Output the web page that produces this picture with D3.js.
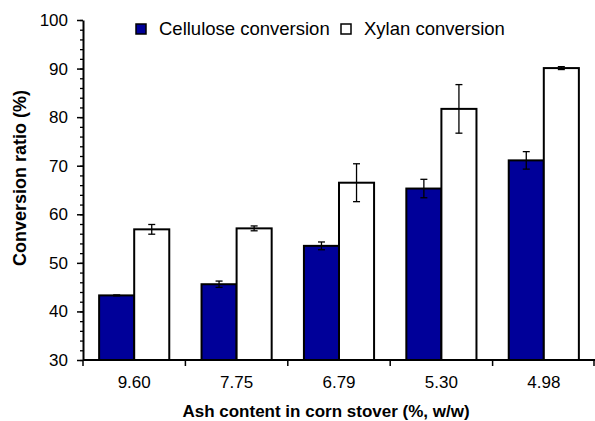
<!DOCTYPE html>
<html lang="en">
<head>
<meta charset="utf-8">
<title>Conversion ratio vs ash content</title>
<script src="https://cdn.jsdelivr.net/npm/d3@7"></script>
<style>
  body { margin: 0; background: #fff; }
  text { font-family: "Liberation Sans", Arial, sans-serif; fill: #000; }
</style>
</head>
<body>
<script>
// chart data
var ashContent = ["9.60", "7.75", "6.79", "5.30", "4.98"];
var cellulose = [43.3, 45.6, 53.5, 65.3, 71.1];
var celluloseErr = [0.1, 0.65, 0.8, 1.9, 1.8];
var xylan = [56.9, 57.1, 66.5, 81.7, 90.1];
var xylanErr = [1.0, 0.5, 3.9, 5.0, 0.3];
var yTicks = [30, 40, 50, 60, 70, 80, 90, 100];
var seriesNames = ["Cellulose conversion", "Xylan conversion"];

var width = 595, height = 421;
var margin = { top: 20, right: 0, bottom: 61, left: 83 };

var svg = d3.select("body").append("svg")
    .attr("width", width)
    .attr("height", height);

var xScale = d3.scaleBand()
    .domain(ashContent)
    .range([margin.left, width - margin.right])
    .paddingInner(0)
    .paddingOuter(0);

// two bars per category, centred in the band
var inner = d3.scaleBand()
    .domain([0, 1])
    .range([0, xScale.bandwidth()])
    .paddingOuter(0.46)
    .paddingInner(0);

var yScale = d3.scaleLinear()
    .domain([30, 100])
    .range([height - margin.bottom, margin.top]);

var blue = "#000099";

// bars
var groups = svg.selectAll("g.cat")
    .data(ashContent)
    .enter().append("g")
    .attr("class", "cat")
    .attr("transform", function(d) { return "translate(" + xScale(d) + ",0)"; });

function drawSeries(values, errs, idx, fill) {
    groups.append("rect")
        .attr("x", inner(idx))
        .attr("y", function(d, i) { return yScale(values[i]); })
        .attr("width", inner.bandwidth())
        .attr("height", function(d, i) { return yScale(30) - yScale(values[i]); })
        .attr("fill", fill)
        .attr("stroke", "#000")
        .attr("stroke-width", 2);

    // error bars
    var cx = inner(idx) + inner.bandwidth() / 2;
    var eb = groups.append("g");
    eb.append("line")
        .attr("x1", cx).attr("x2", cx)
        .attr("y1", function(d, i) { return yScale(values[i] + errs[i]); })
        .attr("y2", function(d, i) { return yScale(values[i] - errs[i]); });
    eb.append("line")
        .attr("x1", cx - 3.5).attr("x2", cx + 3.5)
        .attr("y1", function(d, i) { return yScale(values[i] + errs[i]); })
        .attr("y2", function(d, i) { return yScale(values[i] + errs[i]); });
    eb.append("line")
        .attr("x1", cx - 3.5).attr("x2", cx + 3.5)
        .attr("y1", function(d, i) { return yScale(values[i] - errs[i]); })
        .attr("y2", function(d, i) { return yScale(values[i] - errs[i]); });
    eb.selectAll("line").attr("stroke", "#000").attr("stroke-width", 1.3);
}

drawSeries(cellulose, celluloseErr, 0, blue);
drawSeries(xylan, xylanErr, 1, "#fff");

// y axis with minor ticks
var yMinor = d3.range(30, 100.01, 2);
svg.append("g")
    .attr("transform", "translate(" + margin.left + ",0)")
    .call(d3.axisLeft(yScale).tickValues(yMinor).tickSize(3).tickFormat(""))
    .call(function(g) { g.select(".domain").remove(); })
    .selectAll("line").attr("stroke-width", 1.3);

var yAxis = svg.append("g")
    .attr("transform", "translate(" + margin.left + ",0)")
    .call(d3.axisLeft(yScale).tickValues(yTicks).tickSize(6).tickSizeOuter(0).tickPadding(9));
yAxis.select(".domain").attr("stroke-width", 2);
yAxis.selectAll("line").attr("stroke-width", 1.5);
yAxis.selectAll("text").style("font-size", "17px");

// x axis: ticks at category boundaries
var xAxisG = svg.append("g")
    .attr("transform", "translate(0," + yScale(30) + ")");
xAxisG.append("line")
    .attr("x1", margin.left).attr("x2", width)
    .attr("stroke", "#000").attr("stroke-width", 2);
var boundaries = ashContent.map(function(d) { return xScale(d); }).concat([xScale.range()[1] - 1]);
xAxisG.selectAll("line.tk")
    .data(boundaries)
    .enter().append("line")
    .attr("class", "tk")
    .attr("x1", function(d) { return d; }).attr("x2", function(d) { return d; })
    .attr("y1", 0).attr("y2", 6)
    .attr("stroke", "#000").attr("stroke-width", 1.5);
xAxisG.selectAll("text")
    .data(ashContent)
    .enter().append("text")
    .attr("x", function(d) { return xScale(d) + xScale.bandwidth() / 2; })
    .attr("y", 28)
    .attr("text-anchor", "middle")
    .style("font-size", "17px")
    .text(function(d) { return d; });

// axis titles
svg.append("text")
    .attr("x", 326)
    .attr("y", 417)
    .attr("text-anchor", "middle")
    .style("font-size", "17px")
    .style("font-weight", "bold")
    .text("Ash content in corn stover (%, w/w)");

svg.append("text")
    .attr("transform", "translate(26,178) rotate(-90)")
    .attr("text-anchor", "middle")
    .style("font-size", "18px")
    .style("font-weight", "bold")
    .text("Conversion ratio (%)");

// legend
var legend = svg.append("g");
var legendX = [136, 341];
var legendFill = [blue, "#fff"];
seriesNames.forEach(function(name, i) {
    legend.append("rect")
        .attr("x", legendX[i]).attr("y", 24)
        .attr("width", 10).attr("height", 10)
        .attr("fill", legendFill[i])
        .attr("stroke", "#000").attr("stroke-width", 1.5);
    legend.append("text")
        .attr("x", legendX[i] + 23).attr("y", 35)
        .style("font-size", "18.5px")
        .text(name);
});
</script>
</body>
</html>
